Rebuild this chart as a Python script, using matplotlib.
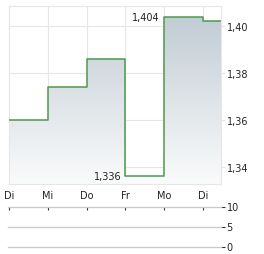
import numpy as np
import matplotlib.pyplot as plt
from matplotlib.colors import LinearSegmentedColormap
from matplotlib.ticker import FuncFormatter

days = ["Di", "Mi", "Do", "Fr", "Mo", "Di"]
prices = [1.360, 1.374, 1.386, 1.336, 1.404, 1.402]
price_ticks = [1.34, 1.36, 1.38, 1.40]
volume_ticks = [0, 5, 10]
hi_label = "1,404"
lo_label = "1,336"

text_col = "#222222"
grid_col = "#e6e6e6"
line_col = "#4c9a4c"

fig = plt.figure(figsize=(2.64, 2.55), dpi=100)
ax = fig.add_axes([9 / 264, 70 / 255, 212 / 264, 178 / 255])

x = np.arange(len(prices))
x_end = 5.464
ax.set_xlim(0, x_end)
ax.set_ylim(1.3326, 1.4085)

xs = np.append(x, x_end)
ys = np.append(prices, prices[-1])

# gradient fill under the step line
bottom = ax.get_ylim()[0]
poly = ax.fill_between(xs, ys, bottom, step="post", color="none", lw=0)
cmap = LinearSegmentedColormap.from_list("g", ["#fafbfb", "#c2ccd4"])
grad = np.linspace(0, 1, 256).reshape(-1, 1)
img = ax.imshow(grad, cmap=cmap, aspect="auto", origin="lower",
                extent=[0, x_end, bottom, max(prices)], zorder=1)
img.set_clip_path(poly.get_paths()[0], transform=ax.transData)

ax.step(xs, ys, where="post", color=line_col, lw=1.1, zorder=3)

ax.set_xticks(x)
ax.set_xticklabels(days)
ax.set_yticks(price_ticks)
ax.yaxis.set_major_formatter(FuncFormatter(lambda v, p: f"{v:.2f}".replace(".", ",")))
ax.yaxis.tick_right()
ax.tick_params(axis="y", length=3, color=grid_col, labelsize=7, labelcolor=text_col, pad=1)
ax.tick_params(axis="x", length=0, labelsize=7, labelcolor=text_col, pad=4)
ax.grid(True, color=grid_col, lw=0.8, zorder=0)
ax.set_axisbelow(True)
for s in ax.spines.values():
    s.set_color(grid_col)
    s.set_linewidth(0.8)

i_hi = int(np.argmax(prices))
i_lo = int(np.argmin(prices))
ax.annotate(hi_label, (x[i_hi], prices[i_hi]), xytext=(-3, 0), textcoords="offset points",
            ha="right", va="center", fontsize=7, color=text_col)
ax.annotate(lo_label, (x[i_lo], prices[i_lo]), xytext=(-3, 0), textcoords="offset points",
            ha="right", va="center", fontsize=7, color=text_col)

# volume panel (empty)
ax2 = fig.add_axes([9 / 264, 7.5 / 255, 212 / 264, 40 / 255])
ax2.set_xlim(0, x_end)
ax2.set_ylim(0, 10)
for v in volume_ticks:
    ax2.axhline(v, xmin=-0.005, color="#cccccc", lw=1, clip_on=False)
for s in ax2.spines.values():
    s.set_visible(False)
ax2.xaxis.tick_top()
ax2.set_xticks(x)
ax2.tick_params(axis="x", direction="in", length=2.5, color="#333333", labeltop=False, width=0.8)
ax2.yaxis.tick_right()
ax2.set_yticks(volume_ticks)
ax2.tick_params(axis="y", length=3, color="#333333", labelsize=7, labelcolor=text_col, pad=1, width=0.8)

fig.savefig("out.png", dpi=100)
